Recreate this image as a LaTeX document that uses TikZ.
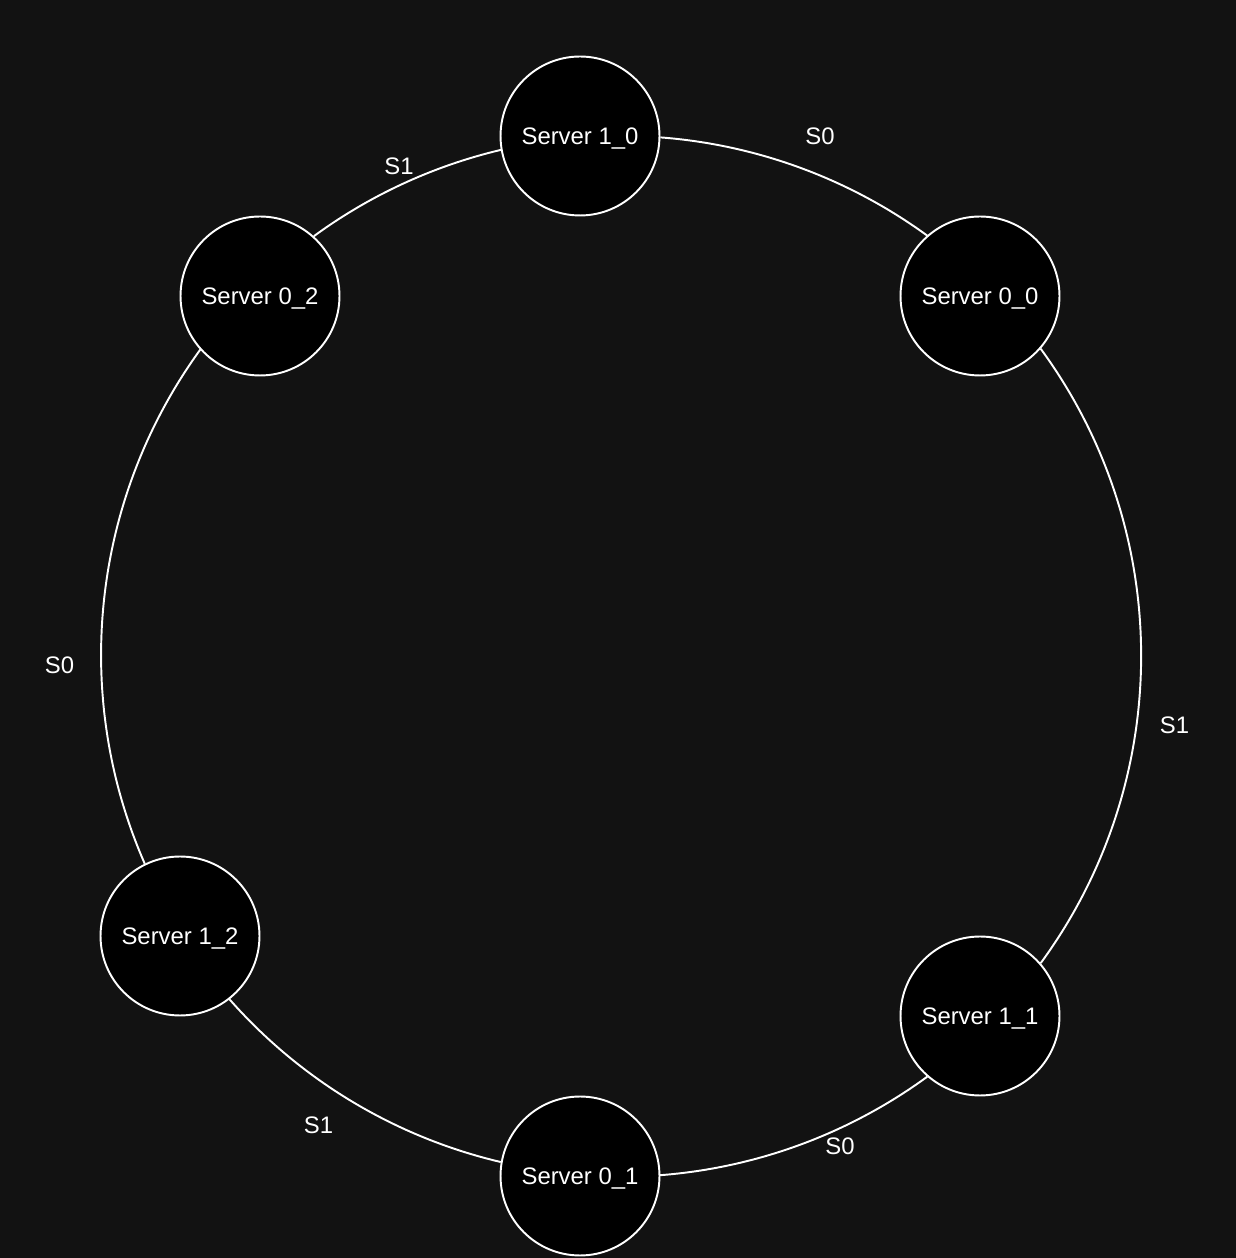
\documentclass[tikz,border=0pt]{standalone}
\usepackage{fontspec}
\setmainfont{Liberation Sans}
\definecolor{bgdark}{HTML}{121212}
\tikzset{
	server/.style={circle, draw=white, fill=black, line width=1.1pt, minimum size=3.18cm, inner sep=0mm, text=white, text depth=0pt, font=\fontsize{13.6}{16}\selectfont},
	link/.style={draw=white, line width=1.1pt},
	lbl/.style={text=white, inner sep=0mm, font=\fontsize{13.6}{16}\selectfont}
}
\begin{document}
\begin{tikzpicture}[x=0.02cm, y=0.02cm]
		\fill[bgdark] (0,0) rectangle (1236,1258);
		\useasboundingbox (0,0) rectangle (1236,1258);
		
		% ring of servers
		\foreach \a\b\x\y in {1/0/580/1122, 0/0/980/962, 1/1/980/242,
			0/1/580/82, 1/2/180/322, 0/2/260/962}
		\node[server] (s\a\b) at (\x,\y) {Server \a\_\b};
		
		% arcs of the ring, radius 520
		\foreach \p\an\sa\ea in {10/-1.1/85.65/53.87, 00/-41.35/36.21/-36.21,
			11/-131.4/-53.87/-85.65, 01/170.05/256.75/221.25,
			12/116.6/203.65/143.88, 02/48.1/126.2/103.25}
		\draw[link] (s\p.\an) arc[start angle=\sa, end angle=\ea, radius=520];
		
		\foreach \n\s\x\y in {1/S0/820/1122, 2/S1/1174.5/533, 3/S0/840/112,
			4/S1/318.5/133, 5/S0/59.5/593, 6/S1/399/1092}
		\node[lbl] (l\n) at (\x,\y) {\s};
	\end{tikzpicture}
\end{document}
